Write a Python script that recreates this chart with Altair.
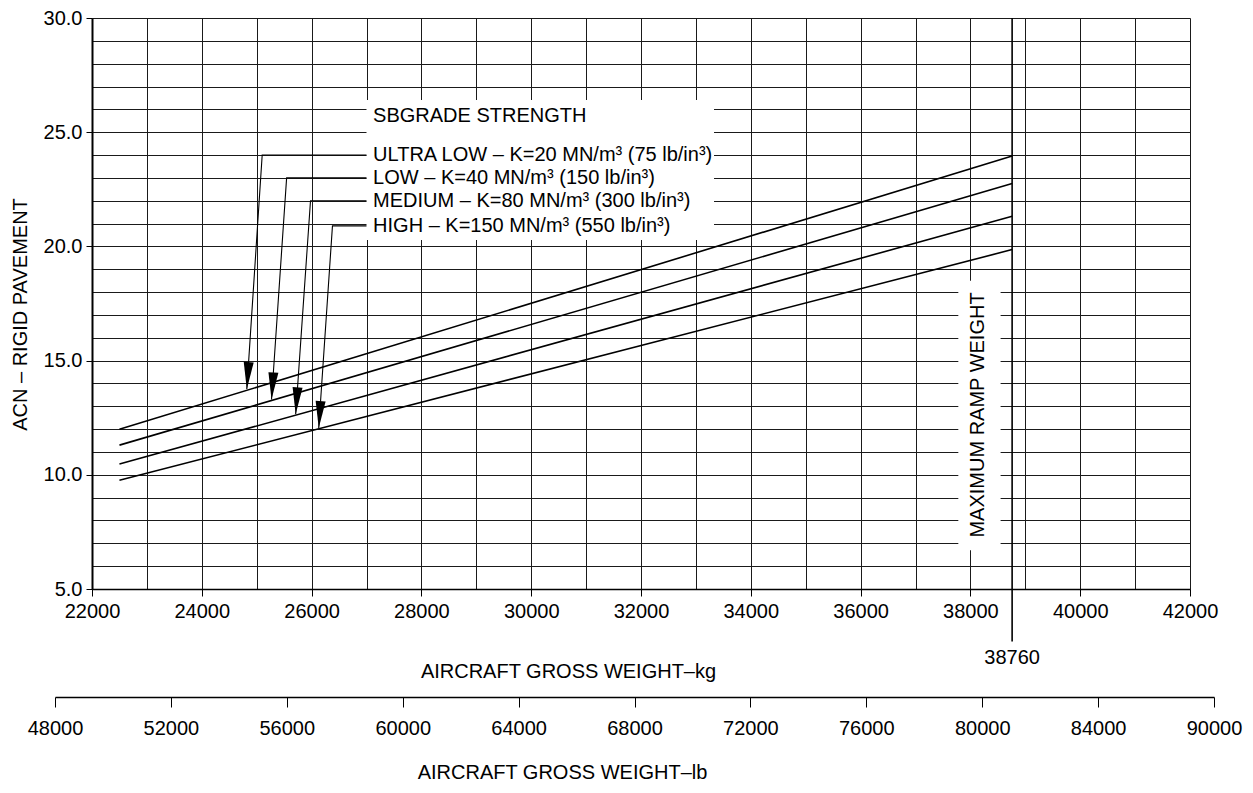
import altair as alt
import pandas as pd

FONT = "Liberation Sans"
FS = 20
INK = "#000000"
GRID = "#1a1a1a"

# ---------------- data ----------------
kg_grid = list(range(22000, 42001, 1000))          # vertical grid lines (kg)
acn_grid = list(range(5, 31))                       # horizontal grid lines (ACN)
lb_labels = ["48000", "52000", "56000", "60000", "64000", "68000",
             "72000", "76000", "80000", "84000", "90000"]

series = ["ULTRA LOW", "LOW", "MEDIUM", "HIGH"]
curve_kg = [22500, 38760]
acn_at_start = [11.99, 11.30, 10.47, 9.76]
acn_at_end = [23.96, 22.75, 21.32, 19.86]

legend_heading = "SBGRADE STRENGTH"
legend_labels = ["ULTRA LOW – K=20 MN/m³ (75 lb/in³)",
                 "LOW – K=40 MN/m³ (150 lb/in³)",
                 "MEDIUM – K=80 MN/m³ (300 lb/in³)",
                 "HIGH – K=150 MN/m³ (550 lb/in³)"]
legend_acn = [24.0, 23.0, 22.0, 20.9]
heading_acn = 25.7
legend_text_kg = 27120
leader_from_kg = 27000
leader_corner_kg = [25100, 25545, 25980, 26380]
arrow_tip_kg = [24820, 25270, 25710, 26130]
arrow_tip_acn = [13.75, 13.3, 12.65, 12.05]
legend_box_kg = [27000, 33330]
legend_box_acn = [20.28, 26.41]

max_ramp_kg = 38760
max_ramp_label = "MAXIMUM RAMP WEIGHT"
max_ramp_label_kg = 38145
max_ramp_label_acn = 12.62
max_ramp_box_kg = [37780, 38550]
max_ramp_box_acn = [6.7, 18.5]
ramp_rule_top_acn = 30
ramp_rule_bottom_acn = 2.7
ramp_value_acn = 2.0

# ---------------- tables ----------------
curves = pd.DataFrame(
    [{"s": s, "kg": curve_kg[0], "acn": a0} for s, a0 in zip(series, acn_at_start)] +
    [{"s": s, "kg": curve_kg[1], "acn": a1} for s, a1 in zip(series, acn_at_end)]
)

leaders_rows = []
for i, s in enumerate(series):
    leaders_rows += [
        {"s": s, "o": 0, "kg": leader_from_kg, "acn": legend_acn[i]},
        {"s": s, "o": 1, "kg": leader_corner_kg[i], "acn": legend_acn[i]},
        {"s": s, "o": 2, "kg": arrow_tip_kg[i], "acn": arrow_tip_acn[i]},
    ]
leaders = pd.DataFrame(leaders_rows)
tips = pd.DataFrame({"s": series, "kg": arrow_tip_kg, "acn": arrow_tip_acn})

legend_text = pd.DataFrame({"t": [legend_heading] + legend_labels,
                            "kg": [legend_text_kg] * 5,
                            "acn": [heading_acn] + legend_acn})

boxes = pd.DataFrame({"kg": [legend_box_kg[0], max_ramp_box_kg[0]],
                      "kg2": [legend_box_kg[1], max_ramp_box_kg[1]],
                      "acn": [legend_box_acn[0], max_ramp_box_acn[0]],
                      "acn2": [legend_box_acn[1], max_ramp_box_acn[1]]})

ramp_rule = pd.DataFrame({"kg": [max_ramp_kg], "acn": [ramp_rule_top_acn],
                          "acn2": [ramp_rule_bottom_acn]})
ramp_value = pd.DataFrame({"kg": [max_ramp_kg], "acn": [ramp_value_acn],
                           "t": [str(max_ramp_kg)]})
ramp_label = pd.DataFrame({"kg": [max_ramp_label_kg], "acn": [max_ramp_label_acn],
                           "t": [max_ramp_label]})
lb_df = pd.DataFrame({"lb": lb_labels})

# ---------------- scales / axes ----------------
kg_scale = alt.Scale(domain=[22000, 42000], nice=False, zero=False)
acn_scale = alt.Scale(domain=[5, 30], nice=False, zero=False)

kg_axis = alt.Axis(
    values=kg_grid,
    labelExpr="datum.value % 2000 == 0 ? format(datum.value, 'd') : ''",
    tickOpacity={"condition": {"test": "datum.value % 2000 != 0", "value": 0}, "value": 1},
    grid=True, gridColor=GRID, gridWidth=1, gridOpacity=1,
    domainColor=INK, domainWidth=1.5, tickColor=INK, tickWidth=1, tickSize=7,
    labelFont=FONT, labelFontSize=FS, labelColor=INK, labelPadding=5,
    labelOverlap=False, labelFlush=False,
    title="AIRCRAFT GROSS WEIGHT–kg", titleFont=FONT, titleFontSize=FS,
    titleFontWeight="normal", titleColor=INK, titleX=476, titleY=82,
    titleAlign="center", titleBaseline="middle",
)
acn_axis = alt.Axis(
    values=acn_grid,
    labelExpr="datum.value % 5 == 0 ? format(datum.value, '.1f') : ''",
    tickOpacity={"condition": {"test": "datum.value % 5 != 0", "value": 0}, "value": 1},
    grid=True, gridColor=GRID, gridWidth=1, gridOpacity=1,
    domainColor=INK, domainWidth=2, tickColor=INK, tickWidth=1, tickSize=6,
    labelFont=FONT, labelFontSize=FS, labelColor=INK, labelPadding=4,
    labelOverlap=False, labelFlush=False,
    title="ACN – RIGID PAVEMENT", titleFont=FONT, titleFontSize=FS,
    titleFontWeight="normal", titleColor=INK, titleX=-72, titleY=296,
    titleAlign="center", titleBaseline="middle",
)
lb_axis = alt.Axis(
    orient="bottom", offset=108, grid=False, labelAngle=0,
    domainColor=INK, domainWidth=1.5, tickColor=INK, tickWidth=1, tickSize=10,
    labelFont=FONT, labelFontSize=FS, labelColor=INK, labelPadding=11,
    labelOverlap=False, labelFlush=False,
    title="AIRCRAFT GROSS WEIGHT–lb", titleFont=FONT, titleFontSize=FS,
    titleFontWeight="normal", titleColor=INK, titleX=470, titleY=75,
    titleAlign="center", titleBaseline="middle",
)

X = alt.X("kg:Q", scale=kg_scale, axis=kg_axis)
Y = alt.Y("acn:Q", scale=acn_scale, axis=acn_axis)

# ---------------- layers ----------------
box_layer = alt.Chart(boxes).mark_rect(fill="white", stroke=None).encode(
    x=X, x2="kg2:Q", y=Y, y2="acn2:Q")

curve_layer = alt.Chart(curves).mark_line(color=INK, strokeWidth=1.6).encode(
    x=X, y=Y, detail="s:N")

leader_layer = alt.Chart(leaders).mark_line(color=INK, strokeWidth=1.1).encode(
    x=X, y=Y, detail="s:N", order="o:Q")

arrow_layer = alt.Chart(tips).mark_point(
    shape="M 0 0 L -0.37 -2 L 0.37 -2 Z", size=729, angle=4,
    filled=True, fill=INK, stroke=None, opacity=1).encode(x=X, y=Y)

legend_layer = alt.Chart(legend_text).mark_text(
    align="left", baseline="middle", font=FONT, fontSize=FS, color=INK).encode(
    x=X, y=Y, text="t:N")

ramp_rule_layer = alt.Chart(ramp_rule).mark_rule(color=INK, strokeWidth=1.6).encode(
    x=X, y=Y, y2="acn2:Q")

ramp_value_layer = alt.Chart(ramp_value).mark_text(
    align="center", baseline="middle", font=FONT, fontSize=FS, color=INK).encode(
    x=X, y=Y, text="t:N")

ramp_label_layer = alt.Chart(ramp_label).mark_text(
    align="center", baseline="middle", angle=270, font=FONT, fontSize=FS, color=INK).encode(
    x=X, y=Y, text="t:N")

kg_chart = alt.layer(
    box_layer, curve_layer, leader_layer, arrow_layer, legend_layer,
    ramp_rule_layer, ramp_value_layer, ramp_label_layer
)

lb_layer = alt.Chart(lb_df).mark_point(opacity=0).encode(
    x=alt.X("lb:O", sort=lb_labels,
            scale=alt.Scale(type="point", domain=lb_labels, range=[-37, 1122], padding=0),
            axis=lb_axis))

chart = alt.layer(kg_chart, lb_layer).resolve_scale(x="independent").properties(
    width=1098, height=571,
    autosize=alt.AutoSizeParams(type="none"),
    padding={"left": 84, "top": 10, "right": 53, "bottom": 196},
).configure_view(stroke=None).configure(background="white")

chart.save("out.html", embed_options={"renderer": "svg", "actions": False})
